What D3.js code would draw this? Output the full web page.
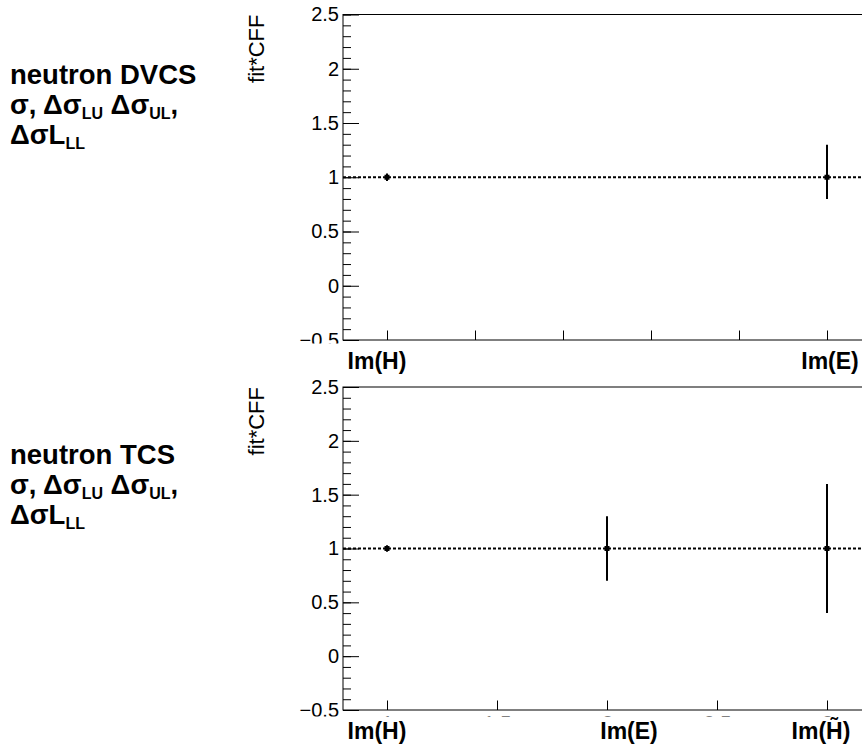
<!DOCTYPE html>
<html>
<head>
<meta charset="utf-8">
<script src="https://cdn.jsdelivr.net/npm/d3@7"></script>
<style>
  body { margin: 0; background: #fff; }
  svg { display: block; }
  text { font-family: "Liberation Sans", Arial, Helvetica, sans-serif; fill: #000; }
</style>
</head>
<body>
<svg id="chart" width="862" height="747"></svg>
<script>
// Upper panel: neutron DVCS fit results (value, lower error, upper error)
const dvcsCategories = ["Im(H)", "Im(E)"];
const dvcsPositions  = [1, 2];
const dvcsValues     = [1, 1];
const dvcsErrLow     = [0.035, 0.2];
const dvcsErrHigh    = [0.035, 0.3];
const dvcsXTicks     = [1, 1.2, 1.4, 1.6, 1.8, 2];

// Lower panel: neutron TCS fit results
const tcsCategories = ["Im(H)", "Im(E)", "Im(H\u0303)"];
const tcsPositions  = [1, 2, 3];
const tcsValues     = [1, 1, 1];
const tcsErrLow     = [0.03, 0.3, 0.6];
const tcsErrHigh    = [0.03, 0.3, 0.6];
const tcsXTicks     = [1, 1.5, 2, 2.5, 3];
const tcsXTickText  = ["1", "1.5", "2", "2.5", "3"];

// Shared y axis
const yDomain     = [-0.5, 2.5];
const yMajorTicks = [-0.5, 0, 0.5, 1, 1.5, 2, 2.5];
const yTitle      = "fit*CFF";
const unityLevel  = 1;

const svg = d3.select("#chart");

function drawPanel(cfg) {
  const g = svg.append("g");
  const x = d3.scaleLinear().domain(cfg.xDomain).range([343, 871]);
  const y = d3.scaleLinear().domain(yDomain).range([cfg.bottom, cfg.top]);

  // frame
  g.append("rect")
    .attr("x", x.range()[0]).attr("y", cfg.top)
    .attr("width", x.range()[1] - x.range()[0])
    .attr("height", cfg.bottom - cfg.top)
    .attr("fill", "none").attr("stroke", "#000").attr("stroke-width", 1);

  // y axis: minor ticks, then major ticks with labels
  const yMinor = d3.range(-5, 26).map(i => i / 10);
  g.append("g")
    .attr("transform", `translate(${x.range()[0]},0)`)
    .call(d3.axisLeft(y).tickValues(yMinor).tickSizeInner(-8).tickSizeOuter(0).tickFormat(""))
    .call(a => a.select(".domain").remove());
  g.append("g")
    .attr("transform", `translate(${x.range()[0]},0)`)
    .call(d3.axisLeft(y).tickValues(yMajorTicks).tickSizeInner(-16).tickSizeOuter(0)
      .tickPadding(4).tickFormat(d => d < 0 ? "\u2212" + Math.abs(d) : d3.format("")(d)))
    .call(a => a.select(".domain").remove())
    .call(a => a.selectAll("text").attr("font-size", 20).attr("font-family", null));

  // x axis ticks (pointing up into the frame); numbers sit under the label strip
  g.append("g")
    .attr("transform", `translate(0,${cfg.bottom})`)
    .call(d3.axisBottom(x).tickValues(cfg.xTicks).tickSizeInner(-9.5).tickSizeOuter(0)
      .tickPadding(6).tickFormat((d, i) => cfg.xTickText ? cfg.xTickText[i] : ""))
    .call(a => a.select(".domain").remove())
    .call(a => a.selectAll("text").attr("font-size", 20).attr("font-family", null));

  g.selectAll(".tick line").attr("stroke", "#000");

  // label strip below the frame
  g.append("rect")
    .attr("x", 0).attr("y", cfg.bottom + cfg.coverGap)
    .attr("width", 862).attr("height", 34)
    .attr("fill", "#fff");

  // category labels
  g.selectAll("text.cat")
    .data(cfg.categories)
    .join("text")
    .attr("class", "cat")
    .attr("x", (d, i) => x(cfg.positions[i]) + cfg.labelShift[i])
    .attr("y", cfg.bottom + 29)
    .attr("text-anchor", "middle")
    .attr("font-size", 23)
    .attr("font-weight", "bold")
    .text(d => d);

  // y title
  svg.append("text")
    .attr("transform", `translate(264,${cfg.top}) rotate(-90)`)
    .attr("text-anchor", "end")
    .attr("font-size", 22)
    .text(yTitle);

  // dotted reference line at 1
  g.append("line")
    .attr("x1", x.range()[0]).attr("x2", 862)
    .attr("y1", y(unityLevel)).attr("y2", y(unityLevel))
    .attr("stroke", "#000").attr("stroke-width", 2.2)
    .attr("stroke-dasharray", "3,2");

  // error bars
  const pts = cfg.values.map((v, i) => ({
    x: cfg.positions[i], v, lo: v - cfg.errLow[i], hi: v + cfg.errHigh[i]
  }));
  g.selectAll("line.err")
    .data(pts)
    .join("line")
    .attr("class", "err")
    .attr("x1", d => x(d.x)).attr("x2", d => x(d.x))
    .attr("y1", d => y(d.lo)).attr("y2", d => y(d.hi))
    .attr("stroke", "#000").attr("stroke-width", 2);
  g.selectAll("rect.pt")
    .data(pts)
    .join("rect")
    .attr("class", "pt")
    .attr("x", d => x(d.x) - 2.5).attr("y", d => y(d.v) - 2.5)
    .attr("width", 5).attr("height", 5)
    .attr("fill", "#000");
}

drawPanel({
  top: 14.5, bottom: 340, xDomain: [0.9, 2.1], xTicks: dvcsXTicks, xTickText: null,
  categories: dvcsCategories, positions: dvcsPositions, values: dvcsValues,
  errLow: dvcsErrLow, errHigh: dvcsErrHigh, labelShift: [-10, 3], coverGap: 3.5
});
drawPanel({
  top: 387, bottom: 710, xDomain: [0.8, 3.2], xTicks: tcsXTicks, xTickText: tcsXTickText,
  categories: tcsCategories, positions: tcsPositions, values: tcsValues,
  errLow: tcsErrLow, errHigh: tcsErrHigh, labelShift: [-10, 22, -6], coverGap: 6.5
});

// reaction titles on the left
function drawTitle(top, first) {
  const t = svg.append("g").attr("font-weight", "bold");
  t.append("text").attr("x", 10).attr("y", top).attr("font-size", 27.5).text(first);
  const l2 = t.append("text").attr("x", 10).attr("y", top + 30).attr("font-size", 27.5);
  l2.append("tspan").text("\u03c3, \u0394\u03c3");
  l2.append("tspan").attr("dy", 5).attr("font-size", 16).text("LU");
  l2.append("tspan").attr("dy", -5).text(" \u0394\u03c3");
  l2.append("tspan").attr("dy", 5).attr("font-size", 16).text("UL");
  l2.append("tspan").attr("dy", -5).text(",");
  const l3 = t.append("text").attr("x", 10).attr("y", top + 60).attr("font-size", 27.5);
  l3.append("tspan").text("\u0394\u03c3L");
  l3.append("tspan").attr("dy", 5).attr("font-size", 16).text("LL");
}
drawTitle(84, "neutron DVCS");
drawTitle(464, "neutron TCS");
</script>
</body>
</html>
